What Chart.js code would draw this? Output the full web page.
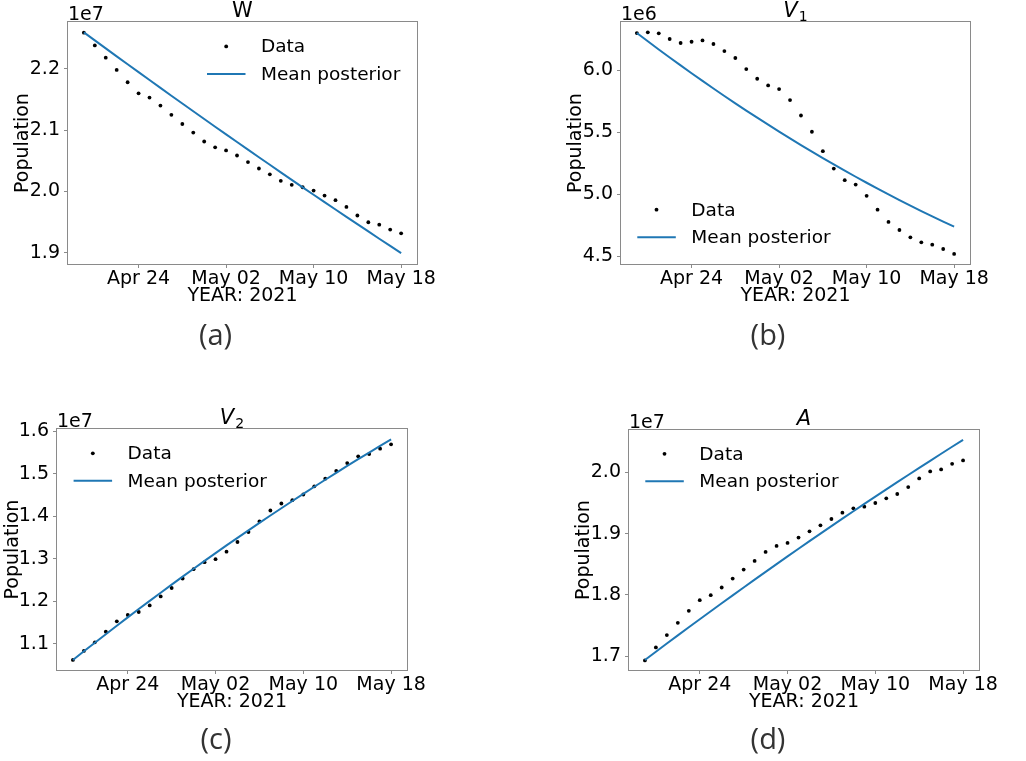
<!DOCTYPE html>
<html><head><meta charset="utf-8">
<script src="https://cdn.jsdelivr.net/npm/chart.js@4.4.0/dist/chart.umd.min.js"></script>
<style>
html,body{margin:0;padding:0;background:#fff;}
#wrap{position:relative;width:1026px;height:761px;overflow:hidden;background:#fff;}
canvas{position:absolute;}
</style></head><body>
<div id="wrap">
<canvas id="ca" width="513" height="380" style="left:0;top:0"></canvas>
<canvas id="cb" width="513" height="380" style="left:513px;top:0"></canvas>
<canvas id="cc" width="513" height="381" style="left:0;top:380px"></canvas>
<canvas id="cd" width="513" height="381" style="left:513px;top:380px"></canvas>
</div>
<script>
// Day index (0 = Apr 19, 2021 ... 29 = May 18, 2021)
const dayIndex = [0,1,2,3,4,5,6,7,8,9,10,11,12,13,14,15,16,17,18,19,20,21,22,23,24,25,26,27,28,29];
const xTickDays = [5,13,21,29];
const xTickLabels = ['Apr 24','May 02','May 10','May 18'];

// W (units of 1e7)
const wData = [2.2587,2.238,2.218,2.198,2.178,2.160,2.153,2.140,2.125,2.110,2.096,2.0815,2.072,2.067,2.0587,2.048,2.0375,2.028,2.0174,2.011,2.007,2.0016,1.9935,1.986,1.975,1.961,1.950,1.946,1.938,1.932];
const wPosterior = [2.2592,2.2461,2.2331,2.2201,2.2072,2.1944,2.1816,2.1688,2.1560,2.1433,2.1307,2.1181,2.1055,2.0930,2.0806,2.0682,2.0559,2.0436,2.0313,2.0191,2.0069,1.9948,1.9827,1.9707,1.9587,1.9469,1.9350,1.9231,1.9114,1.8996];
const wTicks = [1.9,2.0,2.1,2.2];
const wTickLabels = ['1.9','2.0','2.1','2.2'];

// V1 (units of 1e6)
const v1Data = [6.298,6.304,6.296,6.250,6.218,6.228,6.239,6.210,6.153,6.097,6.008,5.930,5.876,5.847,5.758,5.634,5.503,5.347,5.207,5.113,5.078,4.987,4.876,4.777,4.712,4.653,4.613,4.594,4.559,4.519];
const v1Posterior = [6.298,6.2315,6.1659,6.1012,6.0374,5.9745,5.9125,5.8515,5.7914,5.7321,5.6738,5.6164,5.5599,5.5044,5.4497,5.3959,5.3430,5.2911,5.2401,5.1900,5.1408,5.0925,5.0451,4.9987,4.9532,4.9085,4.8648,4.8219,4.7801,4.7391];
const v1Ticks = [4.5,5.0,5.5,6.0];
const v1TickLabels = ['4.5','5.0','5.5','6.0'];

// V2 (units of 1e7)
const v2Data = [1.0616,1.0828,1.1031,1.1282,1.1525,1.1674,1.1745,1.1900,1.2111,1.2309,1.2533,1.2752,1.2917,1.2987,1.3165,1.3392,1.3627,1.3875,1.4133,1.4298,1.4376,1.4510,1.4702,1.4882,1.5063,1.5250,1.5407,1.5462,1.5587,1.5690];
const v2Posterior = [1.0616,1.0820,1.1023,1.1223,1.1422,1.1619,1.1814,1.2007,1.2199,1.2389,1.2577,1.2763,1.2947,1.3130,1.3311,1.3490,1.3667,1.3842,1.4016,1.4187,1.4357,1.4526,1.4692,1.4857,1.5020,1.5181,1.5340,1.5497,1.5653,1.5807];
const v2Ticks = [1.1,1.2,1.3,1.4,1.5,1.6];
const v2TickLabels = ['1.1','1.2','1.3','1.4','1.5','1.6'];

// A (units of 1e7)
const aData = [1.6929,1.7141,1.7342,1.7543,1.7739,1.7913,1.7995,1.8120,1.8266,1.8413,1.8554,1.8701,1.8799,1.8848,1.8935,1.9038,1.9136,1.9239,1.9342,1.9413,1.9440,1.9500,1.9576,1.9647,1.9761,1.9902,2.0016,2.0049,2.0141,2.0196];
const aPosterior = [1.6935,1.7070,1.7204,1.7337,1.7470,1.7601,1.7732,1.7862,1.7992,1.8120,1.8249,1.8376,1.8502,1.8628,1.8753,1.8877,1.9000,1.9122,1.9244,1.9365,1.9485,1.9605,1.9723,1.9841,1.9958,2.0074,2.0190,2.0305,2.0419,2.0533];
const aTicks = [1.7,1.8,1.9,2.0];
const aTickLabels = ['1.7','1.8','1.9','2.0'];

const FONT = 'DejaVu Sans';
const FS = 19;
const BLUE = '#1f77b4';
const FRAME = '#8a8a8a';

const panels = [
  {id:'ca', data:wData, post:wPosterior, ticks:wTicks, labels:wTickLabels, yMin:1.882, yMax:2.2761,
   title:'W', italic:false, sub:'', offset:'1e7', caption:'(a)',
   W:513, H:380, L:68, T:22, R:417, B:264, xh:41.2, ycx:23.3, leg:[139,24.4], cap:[215.5,337]},
  {id:'cb', data:v1Data, post:v1Posterior, ticks:v1Ticks, labels:v1TickLabels, yMin:4.4382, yMax:6.387,
   title:'V', italic:true, sub:'1', offset:'1e6', caption:'(b)',
   W:513, H:380, L:108, T:22, R:457, B:264, xh:41.2, ycx:63, leg:[16.3,187.7], cap:[255,337]},
  {id:'cc', data:v2Data, post:v2Posterior, ticks:v2Ticks, labels:v2TickLabels, yMin:1.038, yMax:1.6051,
   title:'V', italic:true, sub:'2', offset:'1e7', caption:'(c)',
   W:513, H:381, L:57, T:49, R:407, B:290, xh:41.2, ycx:13.3, leg:[16.6,24.3], cap:[216,361]},
  {id:'cd', data:aData, post:aPosterior, ticks:aTicks, labels:aTickLabels, yMin:1.6772, yMax:2.0693,
   title:'A', italic:true, sub:'', offset:'1e7', caption:'(d)',
   W:513, H:381, L:116, T:50, R:466, B:290, xh:41.2, ycx:71.3, leg:[16.3,23.8], cap:[255,361]}
];

const decor = {
  id:'decor',
  afterDraw(chart, args, opts){
    const p = opts.p; const ctx = chart.ctx; const ca = chart.chartArea;
    ctx.save();
    // frame (all four spines)
    ctx.strokeStyle = FRAME; ctx.lineWidth = 1;
    ctx.strokeRect(Math.round(ca.left)-0.5, Math.round(ca.top)-0.5, Math.round(ca.right-ca.left)+1, Math.round(ca.bottom-ca.top)+1);
    // title
    const cx = (ca.left+ca.right)/2, base = ca.top-5.5;
    ctx.fillStyle = '#000'; ctx.textBaseline = 'alphabetic'; ctx.textAlign = 'left';
    const mf = (p.italic?'italic ':'') + '21px "'+FONT+'"';
    const sf = '14px "'+FONT+'"';
    ctx.font = mf; const w1 = ctx.measureText(p.title).width;
    ctx.font = sf; const w2 = p.sub ? ctx.measureText(p.sub).width + 1 : 0;
    const x0 = cx - (w1+w2)/2;
    ctx.font = mf; ctx.fillText(p.title, x0, base);
    if (p.sub){ ctx.font = sf; ctx.fillText(p.sub, x0+w1+1, base+4); }
    // offset text
    ctx.font = FS+'px "'+FONT+'"';
    ctx.fillText(p.offset, ca.left, ca.top-2);
    // legend
    const lx = ca.left + p.leg[0], ly = ca.top + p.leg[1];
    ctx.fillStyle = '#000';
    ctx.beginPath(); ctx.arc(lx+19.2, ly, 1.9, 0, Math.PI*2); ctx.fill();
    ctx.strokeStyle = BLUE; ctx.lineWidth = 2;
    ctx.beginPath(); ctx.moveTo(lx, ly+27.5); ctx.lineTo(lx+38.5, ly+27.5); ctx.stroke();
    ctx.textBaseline = 'middle';
    ctx.font = '18.5px "'+FONT+'"';
    ctx.fillText(chart.data.datasets[1].label, lx+54, ly+1);
    ctx.fillText(chart.data.datasets[0].label, lx+54, ly+28.5);
    // caption
    ctx.font = '29px "Open Sans"'; ctx.fillStyle = '#333'; ctx.textAlign = 'center'; ctx.textBaseline = 'middle';
    ctx.fillText(p.caption, p.cap[0], p.cap[1]);
    ctx.restore();
  }
};

function makeChart(p){
  const tickFont = {family:FONT, size:FS};
  return new Chart(document.getElementById(p.id), {
    type:'scatter',
    data:{datasets:[
      {label:'Mean posterior', data:dayIndex.map((d,i)=>({x:d, y:p.post[i]})), showLine:true,
       borderColor:BLUE, backgroundColor:BLUE, borderWidth:2, pointRadius:0, pointHoverRadius:0, tension:0, order:0},
      {label:'Data', data:dayIndex.map((d,i)=>({x:d, y:p.data[i]})), showLine:false,
       backgroundColor:'#000', borderColor:'#000', borderWidth:0, pointRadius:1.9, pointHoverRadius:1.9, order:1}
    ]},
    options:{
      responsive:false, animation:false, devicePixelRatio:1,
      events:[],
      layout:{padding:{left:0, top:p.T, right:p.W-p.R, bottom:p.H-p.B-p.xh}},
      plugins:{legend:{display:false}, tooltip:{enabled:false}, title:{display:false}, decor:{p:p}},
      scales:{
        x:{type:'linear', min:-1.45, max:30.45,
           afterBuildTicks:s=>{s.ticks = xTickDays.map(v=>({value:v}));},
           afterFit:s=>{s.height = p.xh;},
           ticks:{callback:(v,i)=>xTickLabels[i], font:tickFont, color:'#000', padding:0, maxRotation:0, autoSkip:false},
           grid:{drawOnChartArea:false, drawTicks:true, tickLength:4, tickColor:FRAME, tickWidth:1},
           border:{display:false},
           title:{display:true, text:'YEAR: 2021', font:{family:FONT, size:FS, lineHeight:1}, color:'#000', padding:{top:0, bottom:0}}},
        y:{type:'linear', min:p.yMin, max:p.yMax,
           afterBuildTicks:s=>{s.ticks = p.ticks.map(v=>({value:v}));},
           afterFit:s=>{s.width = p.L;},
           ticks:{callback:(v,i)=>p.labels[i], font:tickFont, color:'#000', padding:4},
           grid:{drawOnChartArea:false, drawTicks:true, tickLength:4, tickColor:FRAME, tickWidth:1},
           border:{display:false},
           title:{display:true, text:'Population', font:{family:FONT, size:FS, lineHeight:1}, color:'#000', padding:{top:p.ycx-FS/2, bottom:0}}}
      }
    },
    plugins:[decor]
  });
}
panels.forEach(makeChart);
</script>
</body></html>
